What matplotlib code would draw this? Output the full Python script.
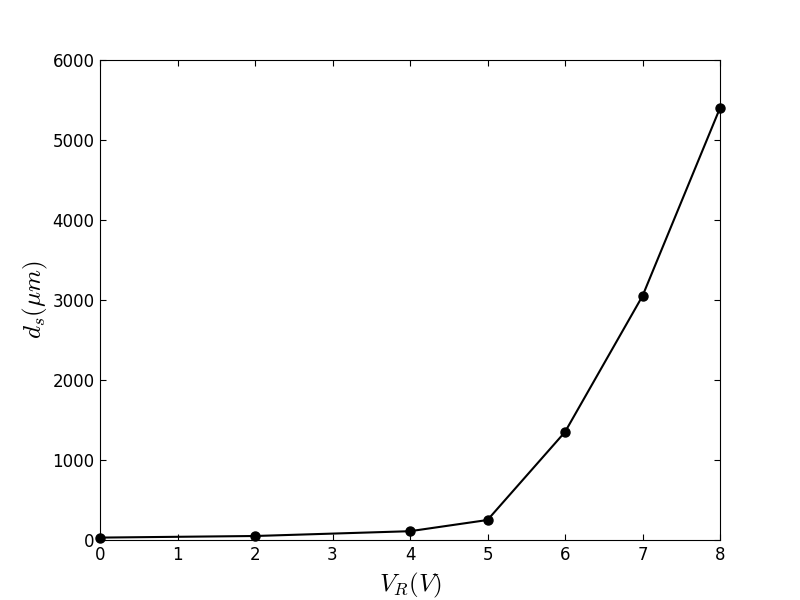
import matplotlib
matplotlib.use('Agg')
import matplotlib.pyplot as plt

# reverse voltage vs depletion width
v_r = [0, 2, 4, 5, 6, 7, 8]
d_s = [30, 50, 110, 250, 1350, 3050, 5400]

plt.rcParams['mathtext.fontset'] = 'cm'
plt.rcParams['xtick.direction'] = 'in'
plt.rcParams['ytick.direction'] = 'in'
plt.rcParams['xtick.top'] = True
plt.rcParams['ytick.right'] = True

fig = plt.figure(figsize=(8, 6), dpi=100)
ax = fig.add_subplot(111)
fig.subplots_adjust(left=0.125, right=0.9, bottom=0.1, top=0.9)

ax.plot(v_r, d_s, color='black', marker='o', markersize=6.5, linewidth=1.5,
        clip_on=False, zorder=3)

ax.set_xlim(0, 8)
ax.set_ylim(0, 6000)
ax.set_xticks(range(0, 9))
ax.set_yticks(range(0, 6001, 1000))
ax.tick_params(labelsize=12, length=4, width=0.8)
ax.tick_params(axis='x', pad=4)
ax.tick_params(axis='y', pad=4)

ax.set_xlabel(r'$V_R(V)$', fontsize=18, labelpad=5)
ax.set_ylabel(r'$d_s(\mu m)$', fontsize=18, labelpad=2)

fig.savefig('out.png', dpi=100, facecolor='white')
plt.close(fig)
